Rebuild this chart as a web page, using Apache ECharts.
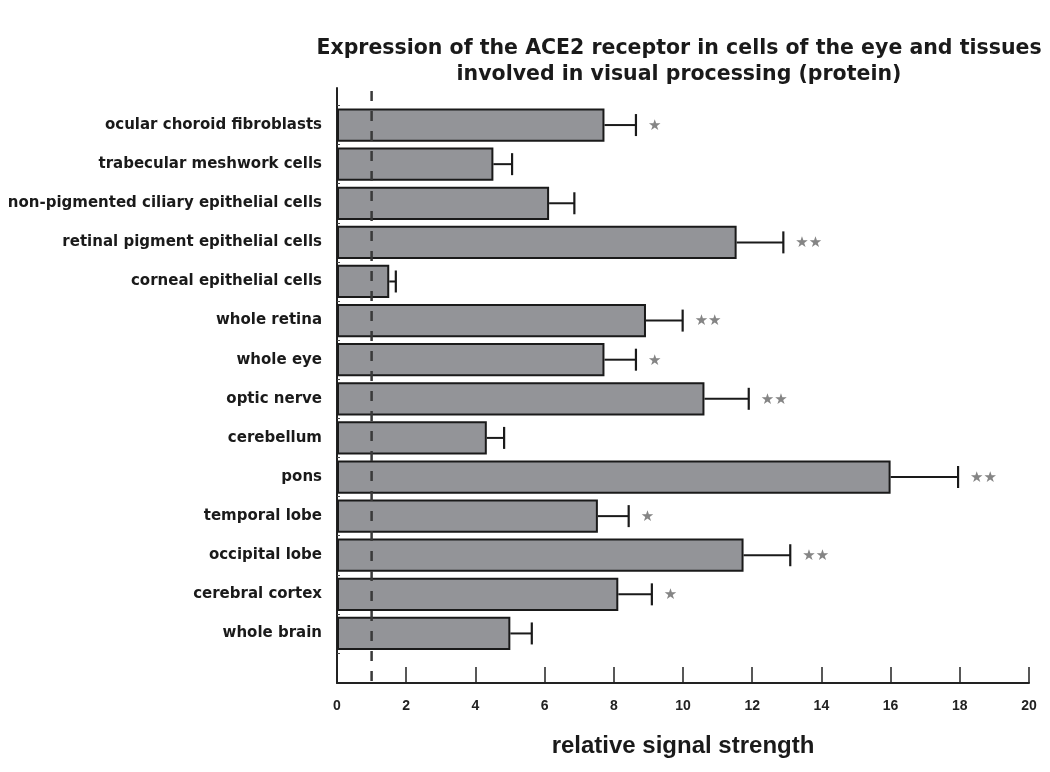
<!DOCTYPE html>
<html>
<head>
<meta charset="utf-8">
<script src="https://cdn.jsdelivr.net/npm/echarts@6/dist/echarts.min.js"></script>
<style>html,body{margin:0;padding:0;background:#fff}#chart{width:1050px;height:772px}</style>
</head>
<body>
<div id="chart"></div>
<script>
const titleLines = ['Expression of the ACE2 receptor in cells of the eye and tissues', 'involved in visual processing (protein)'];
const axisName = 'relative signal strength';
const categories = ['ocular choroid fibroblasts','trabecular meshwork cells','non-pigmented ciliary epithelial cells','retinal pigment epithelial cells','corneal epithelial cells','whole retina','whole eye','optic nerve','cerebellum','pons','temporal lobe','occipital lobe','cerebral cortex','whole brain'];
const values = [7.73, 4.52, 6.13, 11.55, 1.51, 8.93, 7.73, 10.62, 4.33, 16.0, 7.54, 11.75, 8.13, 5.01];
const errorUpper = [8.64, 5.06, 6.86, 12.9, 1.70, 9.99, 8.64, 11.9, 4.83, 17.95, 8.43, 13.1, 9.1, 5.63];
const significance = ['*','','','**','','**','*','**','','**','*','**','*',''];
const referenceLine = 1;
const xMin = 0, xMax = 20, xInterval = 2;

const FONT = "'Liberation Sans', Arial, Helvetica, sans-serif";
const WIDE = "'DejaVu Sans', Verdana, sans-serif";
const chart = echarts.init(document.getElementById('chart'));

const errData = values.map((v, i) => [v, errorUpper[i], i, significance[i]]);

chart.setOption({
  animation: false,
  backgroundColor: '#ffffff',
  title: {
    text: titleLines.join('\n'),
    left: 674, top: 31, textAlign: 'center',
    textStyle: { fontFamily: WIDE, fontWeight: 'bold', fontSize: 20.5, lineHeight: 26, color: '#1a1a1a' }
  },
  grid: [
    { left: 337, right: 21, top: 105.5, bottom: 119 },
    { left: 337, right: 21, top: 88, bottom: 89 }
  ],
  xAxis: [
    { gridIndex: 0, type: 'value', min: xMin, max: xMax, show: false },
    { gridIndex: 1, type: 'value', min: xMin, max: xMax, interval: xInterval,
      axisLine: { show: true, lineStyle: { color: '#222', width: 2 } },
      axisTick: { show: true, inside: true, length: 16, lineStyle: { color: '#222', width: 1.5 } },
      axisLabel: { fontFamily: FONT, fontWeight: 'bold', fontSize: 14, color: '#222', margin: 16 },
      splitLine: { show: false },
      name: axisName, nameLocation: 'middle', nameGap: 51,
      nameTextStyle: { fontFamily: FONT, fontWeight: 'bold', fontSize: 24, color: '#1a1a1a' }
    }
  ],
  yAxis: [
    { gridIndex: 0, type: 'category', data: categories, inverse: true,
      axisLine: { show: false },
      axisTick: { show: true, inside: true, length: 3, lineStyle: { color: '#444', width: 1 } },
      axisLabel: { fontFamily: WIDE, fontWeight: 'bold', fontSize: 15, color: '#1a1a1a', margin: 15 },
      splitLine: { show: false }
    },
    { gridIndex: 1, type: 'value', min: 0, max: 1,
      axisLine: { show: true, lineStyle: { color: '#222', width: 2 } },
      axisTick: { show: false }, axisLabel: { show: false }, splitLine: { show: false }
    }
  ],
  series: [
    { type: 'bar', xAxisIndex: 0, yAxisIndex: 0, data: values, barWidth: '85%',
      itemStyle: { color: '#939498', borderColor: '#1a1a1a', borderWidth: 2 }, z: 2 },
    { type: 'custom', xAxisIndex: 0, yAxisIndex: 0, data: errData, z: 3,
      encode: { x: [0, 1], y: 2 },
      renderItem: function (params, api) {
        const lo = api.coord([api.value(0), api.value(2)]);
        const hi = api.coord([api.value(1), api.value(2)]);
        const capH = 11;
        const sig = errData[params.dataIndex][3];
        const children = [
          { type: 'line', shape: { x1: lo[0], y1: lo[1], x2: hi[0], y2: hi[1] }, style: { stroke: '#1a1a1a', lineWidth: 2 } },
          { type: 'line', shape: { x1: hi[0], y1: hi[1] - capH, x2: hi[0], y2: hi[1] + capH }, style: { stroke: '#1a1a1a', lineWidth: 2.2 } }
        ];
        if (sig) {
          children.push({ type: 'text', x: hi[0] + 12, y: hi[1] + 1,
            style: { text: sig.replace(/\*/g, '\u2605'), fill: '#858585', font: "15px 'DejaVu Sans'", verticalAlign: 'middle', align: 'left' } });
        }
        return { type: 'group', children: children };
      }
    },
    { type: 'custom', xAxisIndex: 1, yAxisIndex: 1, data: [[referenceLine]], z: 5,
      renderItem: function (params, api) {
        const top = api.coord([api.value(0), 1]);
        const bot = api.coord([api.value(0), 0]);
        return { type: 'line', shape: { x1: top[0], y1: top[1] + 3, x2: bot[0], y2: bot[1] },
          style: { stroke: '#3a3a3a', lineWidth: 2.5, lineDash: [10, 10] } };
      }
    }
  ]
});
</script>
</body>
</html>
